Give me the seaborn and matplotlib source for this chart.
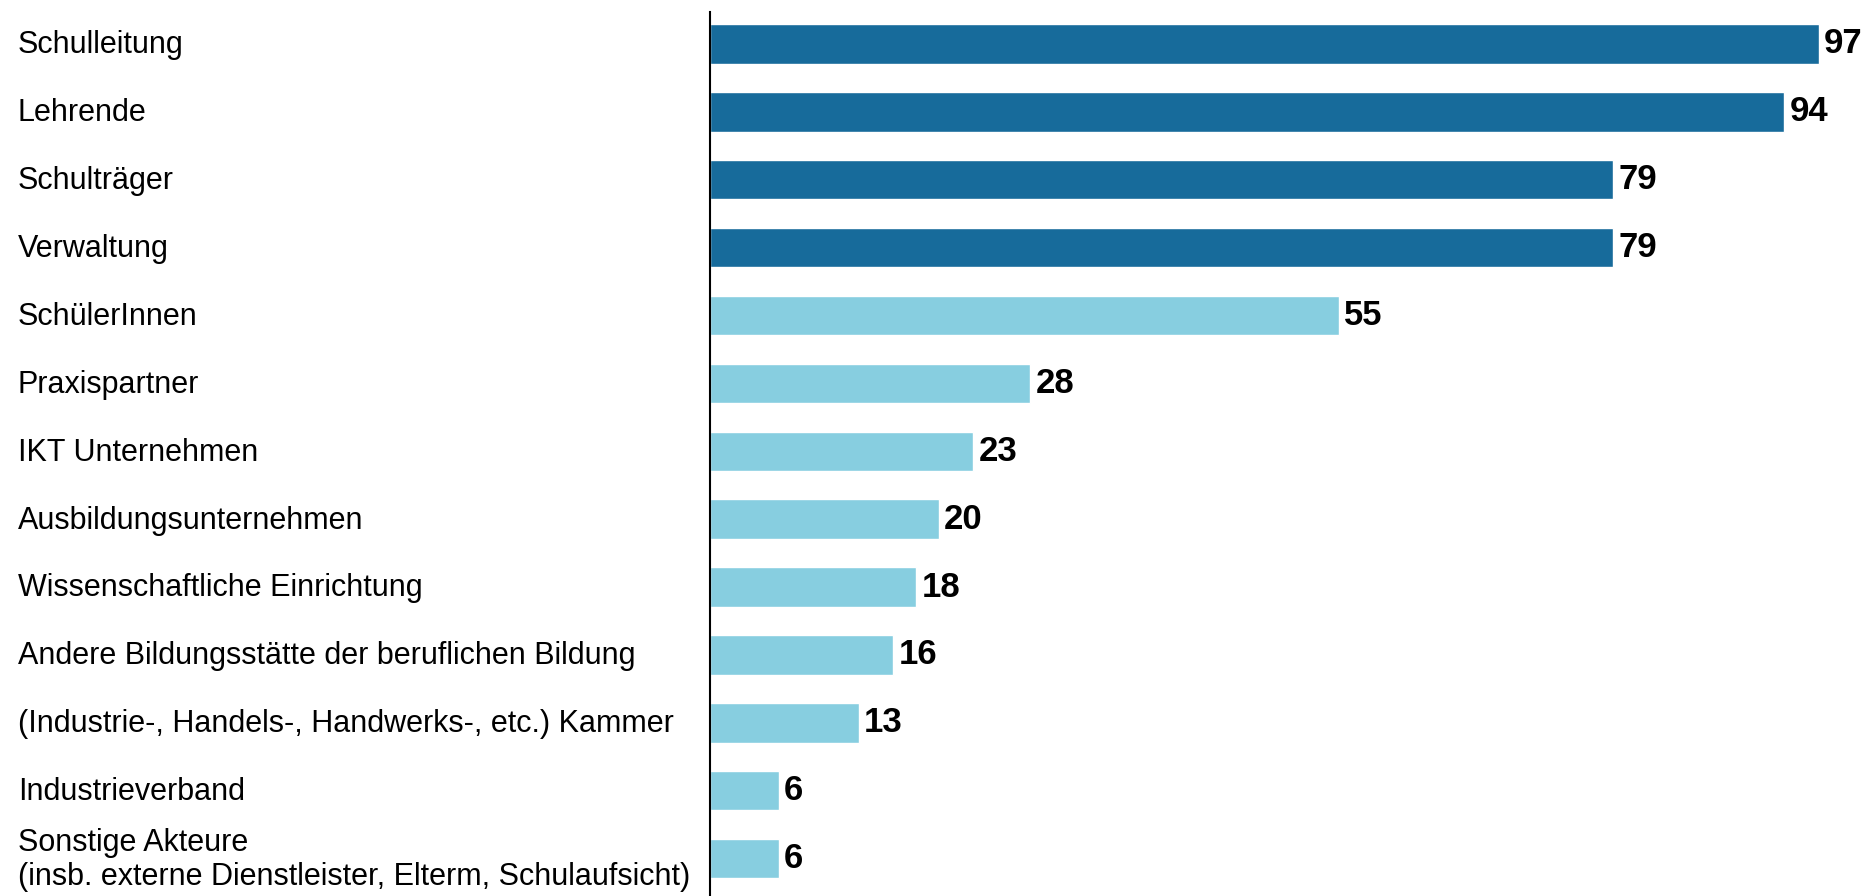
import matplotlib
matplotlib.use("Agg")
import matplotlib.pyplot as plt
import matplotlib.font_manager as fm
import matplotlib.transforms as mtransforms
import pandas as pd
import seaborn as sns

# daten
akteure = [
    "Schulleitung",
    "Lehrende",
    "Schulträger",
    "Verwaltung",
    "SchülerInnen",
    "Praxispartner",
    "IKT Unternehmen",
    "Ausbildungsunternehmen",
    "Wissenschaftliche Einrichtung",
    "Andere Bildungsstätte der beruflichen Bildung",
    "(Industrie-, Handels-, Handwerks-, etc.) Kammer",
    "Industrieverband",
    "Sonstige Akteure\n(insb. externe Dienstleister, Elterm, Schulaufsicht)",
]
werte = [97, 94, 79, 79, 55, 28, 23, 20, 18, 16, 13, 6, 6]
gruppe = ["hoch"] * 4 + ["niedrig"] * 9

df = pd.DataFrame({"akteur": akteure, "wert": werte, "gruppe": gruppe})

sns.set_style("white")
names = {f.name for f in fm.fontManager.ttflist}
narrow = "Liberation Sans Narrow" if "Liberation Sans Narrow" in names else "Liberation Sans"
plt.rcParams["font.family"] = [narrow, "DejaVu Sans"]

fig = plt.figure(figsize=(18.7, 8.96), dpi=100)
ax = fig.add_axes([0.3797, 0.0, 0.6203, 0.9866])

sns.barplot(data=df, x="wert", y="akteur", hue="gruppe",
            palette={"hoch": "#176b9b", "niedrig": "#87cee0"},
            saturation=1, dodge=False, width=0.58, legend=False, ax=ax)

for c in ax.containers:
    ax.bar_label(c, padding=4, fontsize=25, fontweight="bold", color="black")

ax.set_xlim(0, 101.5)
ax.set_ylim(12.55, -0.47)
ax.set_xlabel("")
ax.set_ylabel("")
ax.set_xticks([])
ax.set_yticks([])
for s in ["top", "right", "bottom"]:
    ax.spines[s].set_visible(False)
ax.spines["left"].set_linewidth(1.5)
ax.spines["left"].set_color("black")

# labels linksbündig am bildrand
trans = mtransforms.blended_transform_factory(fig.transFigure, ax.transData)
for i, name in enumerate(akteure):
    ax.text(18 / 1870, i + 0.02, name, transform=trans, ha="left", va="center",
            fontsize=22, color="black", linespacing=1.15)

fig.savefig("out.png", dpi=100)
